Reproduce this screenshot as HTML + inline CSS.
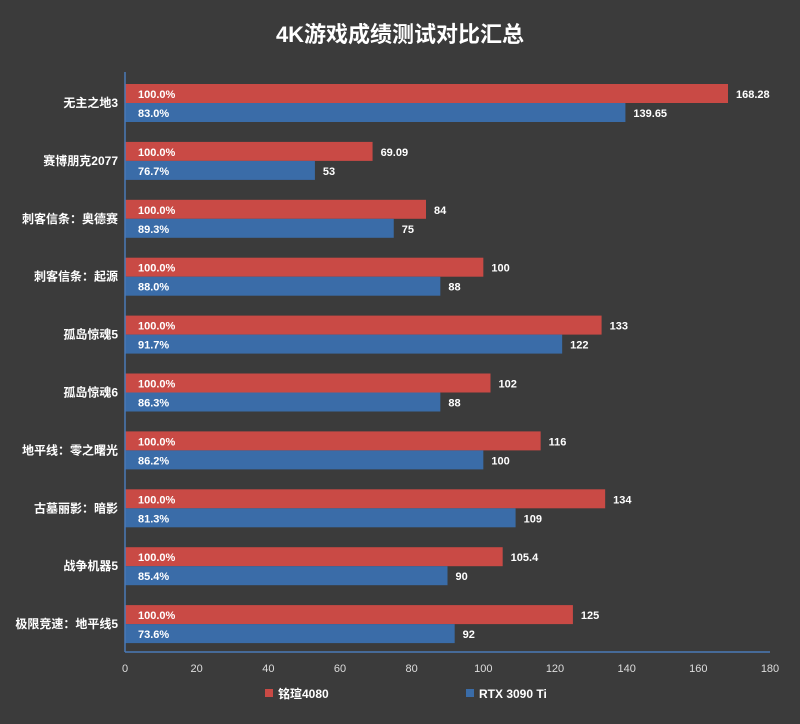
<!DOCTYPE html>
<html><head><meta charset="utf-8"><style>
body{margin:0;background:#3b3b3b;}
svg{display:block;font-family:"Liberation Sans","Noto Sans CJK SC",sans-serif;}
</style></head><body>
<svg id="chart" width="800" height="724">
<rect width="800" height="724" fill="#3b3b3b"/>
<text x="400" y="42" text-anchor="middle" fill="#fff" font-size="22" font-weight="bold">4K游戏成绩测试对比汇总</text>
<g id="plot"></g>
<line x1="125" y1="72" x2="125" y2="652" stroke="#4a7ab8" stroke-width="1.5"/>
<line x1="125" y1="652" x2="770" y2="652" stroke="#4a7ab8" stroke-width="1.5"/>
<g><rect x="265" y="689" width="8" height="8" fill="#c94a45"/><text x="278" y="698" fill="#fff" font-size="12" font-weight="bold">铭瑄4080</text></g>
<g><rect x="466" y="689" width="8" height="8" fill="#3a6ca8"/><text x="479" y="698" fill="#fff" font-size="12" font-weight="bold">RTX 3090 Ti</text></g>
</svg>
<script>
const categories=["无主之地3","赛博朋克2077","刺客信条：奥德赛","刺客信条：起源","孤岛惊魂5","孤岛惊魂6","地平线：零之曙光","古墓丽影：暗影","战争机器5","极限竞速：地平线5"];
const series4080=[168.28,69.09,84,100,133,102,116,134,105.4,125];
const series3090=[139.65,53,75,88,122,88,100,109,90,92];
const labels4080=["168.28","69.09","84","100","133","102","116","134","105.4","125"];
const labels3090=["139.65","53","75","88","122","88","100","109","90","92"];
const pct4080=["100.0%","100.0%","100.0%","100.0%","100.0%","100.0%","100.0%","100.0%","100.0%","100.0%"];
const pct3090=["83.0%","76.7%","89.3%","88.0%","91.7%","86.3%","86.2%","81.3%","85.4%","73.6%"];
const xTicks=[0,20,40,60,80,100,120,140,160,180];
const NS="http://www.w3.org/2000/svg";
const g=document.getElementById('plot');
const x=v=>125+v*(645/180);
const rowY=i=>84+i*57.9;
function mk(t,a,txt){const e=document.createElementNS(NS,t);for(const k in a)e.setAttribute(k,a[k]);if(txt!==undefined)e.textContent=txt;g.appendChild(e);return e;}
xTicks.forEach(t=>{
 const e=mk('text',{x:x(t),y:672,'text-anchor':'middle',fill:'#ddd','font-size':11},String(t));
 
 
});
categories.forEach((c,i)=>{
 const y=rowY(i);
 const l=mk('text',{x:118,y:y+23,'text-anchor':'end',fill:'#fff','font-size':12,'font-weight':'bold'},c);
 
 
 const r=mk('rect',{x:125,y:y,width:x(series4080[i])-125,height:19,fill:'#c94a45'});
 
 
 const b=mk('rect',{x:125,y:y+19,width:x(series3090[i])-125,height:19,fill:'#3a6ca8'});
 
 
 const p1=mk('text',{x:138,y:y+14,fill:'#fff','font-size':11,'font-weight':'bold'},pct4080[i]);
 
 
 const p2=mk('text',{x:138,y:y+33,fill:'#fff','font-size':11,'font-weight':'bold'},pct3090[i]);
 
 
 const v1=mk('text',{x:x(series4080[i])+8,y:y+14,fill:'#fff','font-size':11,'font-weight':'bold'},labels4080[i]);
 
 
 const v2=mk('text',{x:x(series3090[i])+8,y:y+33,fill:'#fff','font-size':11,'font-weight':'bold'},labels3090[i]);
 
 
});
</script>
</body></html>
